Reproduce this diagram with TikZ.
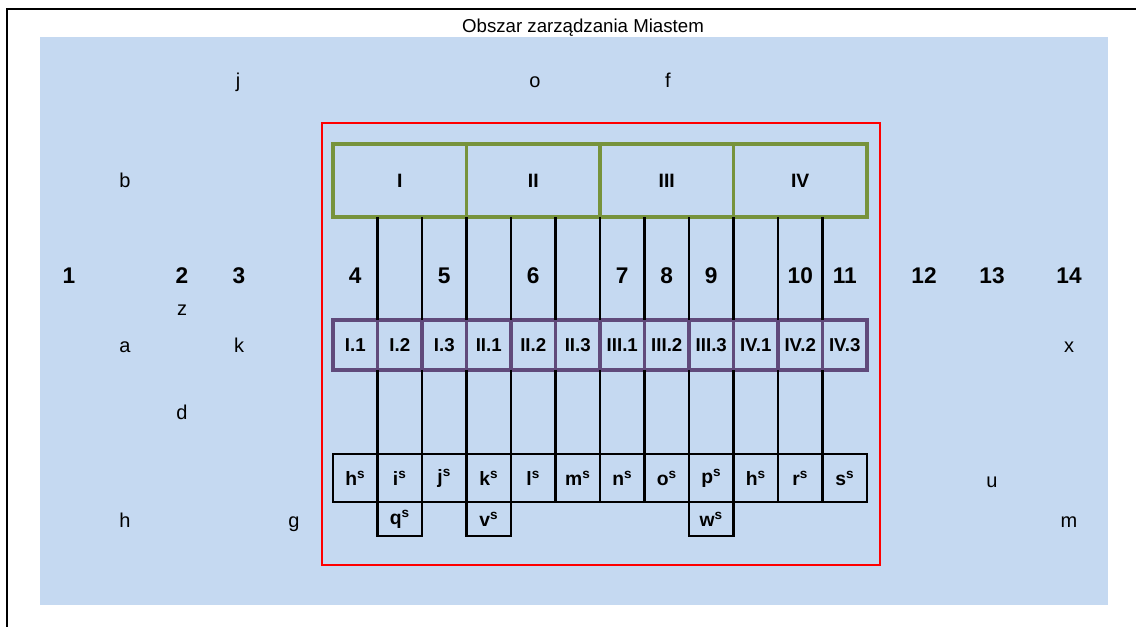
\documentclass[tikz,border=0pt]{standalone}
\usepackage{fontspec}
\setmainfont{Liberation Sans}
\usetikzlibrary{positioning}
\definecolor{sky}{HTML}{C5D9F1}
\definecolor{olive}{HTML}{77933C}
\definecolor{plum}{HTML}{604A7B}

\begin{document}
\begin{tikzpicture}[
  x=0.75pt, y=-0.75pt,
  letter/.style={anchor=base, inner sep=0pt, font=\fontsize{15}{18}\selectfont},
  num/.style={anchor=base, inner sep=0pt, font=\fontsize{17}{20}\selectfont\bfseries},
  areabox/.style={draw=olive, line width=2.6pt, outer sep=0pt, inner sep=0pt, minimum width=100.125pt, minimum height=54.75pt, font=\fontsize{14.5}{17}\selectfont\bfseries},
  unitbox/.style={draw=plum, line width=2.6pt, outer sep=0pt, inner sep=0pt, minimum width=33.375pt, minimum height=37.5pt, font=\fontsize{14}{16}\selectfont\bfseries},
  cellbox/.style={draw=black, line width=1.6pt, outer sep=0pt, inner sep=0pt, minimum width=33.375pt, minimum height=36pt, font=\fontsize{14.5}{16}\selectfont\bfseries},
  extrabox/.style={cellbox, minimum height=25.5pt},
  link/.style={black, line width=1.6pt}
]
  \useasboundingbox (0,0) rectangle (1136,627);
  % frame and city area
  \draw[line width=1.6pt] (7,627) -- (7,9) -- (1136,9);
  \fill[sky] (40,37) rectangle (1108,605);
  \node[letter, font=\fontsize{14}{17}\selectfont] (title) at (583,33) {Obszar zarządzania Miastem};
  \draw[red, line width=1.6pt] (322,123) rectangle (880,565);

  % areas, units and cells
  \foreach \r [count=\i] in {I,II,III,IV}
    \node[areabox] (area\i) at ({333+133.5*(\i-0.5)},180.5) {\r};
  \foreach \u [count=\i] in {I.1,I.2,I.3,II.1,II.2,II.3,III.1,III.2,III.3,IV.1,IV.2,IV.3}
    \node[unitbox] (unit\i) at ({333+44.5*(\i-0.5)},345) {\u};
  \foreach \c [count=\i] in {h,i,j,k,l,m,n,o,p,h,r,s}
    \node[cellbox] (cell\i) at ({333+44.5*(\i-0.5)},478) {\c\textsuperscript{s}};
  \node[extrabox, below=0pt of cell2] (extra2) {q\textsuperscript{s}};
  \node[extrabox, below=0pt of cell4] (extra4) {v\textsuperscript{s}};
  \node[extrabox, below=0pt of cell9] (extra9) {w\textsuperscript{s}};

  \foreach \i in {1,...,11} {
    \draw[link] (unit\i.north east) -- (unit\i.north east |- area1.south);
    \draw[link] (unit\i.south east) -- (cell\i.north east);
  }

  % numbers
  \foreach \lab/\x in {1/69, 2/182, 3/239, 12/924, 13/992, 14/1069}
    \node[num] (num\lab) at (\x,284) {\lab};
  \foreach \lab/\k in {4/1, 5/3, 6/5, 7/7, 8/8, 9/9, 10/11, 11/12}
    \node[num] (num\lab) at ({333+44.5*(\k-0.5)},284) {\lab};

  % letters
  \node[letter] (lblj) at (238,88) {j};
  \node[letter] (lblo) at (535,88) {o};
  \node[letter] (lblf) at (668,88) {f};
  \node[letter] (lblb) at (125,188) {b};
  \node[letter] (lblz) at (182,316) {z};
  \node[letter] (lbla) at (125,353) {a};
  \node[letter] (lblk) at (239,353) {k};
  \node[letter] (lblx) at (1069,353) {x};
  \node[letter] (lbld) at (182,420) {d};
  \node[letter] (lblu) at (992,487) {u};
  \node[letter] (lblh) at (125,527) {h};
  \node[letter] (lblg) at (294,527) {g};
  \node[letter] (lblm) at (1069,527) {m};
\end{tikzpicture}
\end{document}
